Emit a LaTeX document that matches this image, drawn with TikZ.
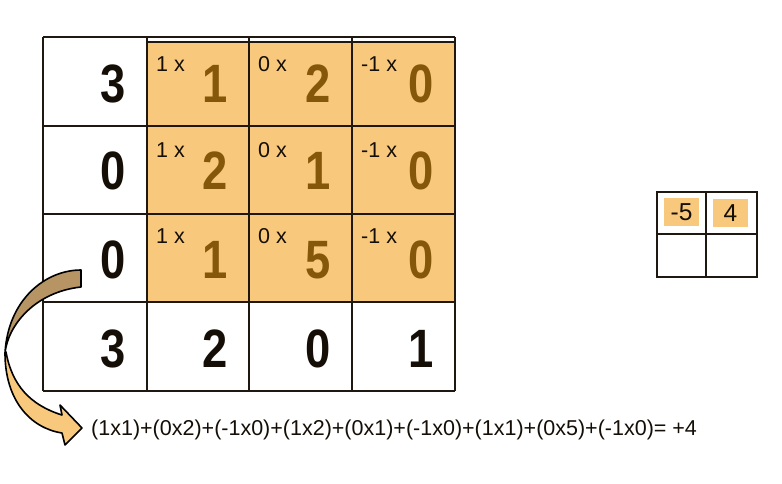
\documentclass[tikz,border=0pt]{standalone}
\usepackage{fontspec}
\setmainfont{Liberation Sans}
\usetikzlibrary{calc}
\definecolor{cellorange}{RGB}{248,201,124}
\definecolor{digitbrown}{RGB}{133,87,11}
\definecolor{gridline}{RGB}{30,24,16}
\definecolor{hatchfill}{RGB}{182,148,100}
\definecolor{inkblack}{RGB}{20,14,6}
\newcommand\narrowdig[1]{\scalebox{0.84}[1]{#1}}
\tikzset{
  gridstroke/.style={draw=gridline, line width=1.3pt},
  bigdigit/.style={anchor=base east, inner sep=0pt, text=inkblack,
    font=\fontsize{54}{54}\selectfont\bfseries},
  bigbrown/.style={bigdigit, text=digitbrown},
  weightlabel/.style={anchor=base west, inner sep=0pt, text=inkblack,
    font=\fontsize{21.5}{21.5}\selectfont},
  eqtext/.style={anchor=base west, inner sep=0pt, text=inkblack,
    font=\fontsize{21.5}{21.5}\selectfont},
  resultbox/.style={fill=cellorange, draw=none},
  resulttext/.style={inner sep=0pt, text=inkblack, font=\fontsize{24.5}{24.5}\selectfont},
  ribbon/.style={draw=black, line width=1.6pt, line join=round},
}
\begin{document}
\begin{tikzpicture}[x=1pt, y=-1pt]
\useasboundingbox (0,0) rectangle (782,483);

% orange kernel region
\fill[cellorange] (147,42) rectangle (455,302);

% grid lines
\draw[gridstroke] (43,37) -- (455,37);
\draw[gridstroke] (147,42) -- (455,42);
\draw[gridstroke] (43,126) -- (455,126);
\draw[gridstroke] (43,214) -- (455,214);
\draw[gridstroke] (43,302) -- (455,302);
\draw[draw=gridline, line width=2.4pt] (43,391) -- (455,391);
\draw[gridstroke] (43,37) -- (43,391);
\draw[gridstroke] (147,37) -- (147,391);
\draw[gridstroke] (249,37) -- (249,391);
\draw[gridstroke] (352,37) -- (352,391);
\draw[gridstroke] (455,37) -- (455,391);

% row 1
\node[bigdigit] (a11) at (126,102) {\narrowdig{3}};
\node[bigbrown] (a12) at (228,102) {\narrowdig{1}};
\node[bigbrown] (a13) at (331,102) {\narrowdig{2}};
\node[bigbrown] (a14) at (434,102) {\narrowdig{0}};
\node[weightlabel] (w11) at (156,71) {1 x};
\node[weightlabel] (w12) at (258,71) {0 x};
\node[weightlabel] (w13) at (361,71) {-1 x};
% row 2
\node[bigdigit] (a21) at (126,189) {\narrowdig{0}};
\node[bigbrown] (a22) at (228,189) {\narrowdig{2}};
\node[bigbrown] (a23) at (331,189) {\narrowdig{1}};
\node[bigbrown] (a24) at (434,189) {\narrowdig{0}};
\node[weightlabel] (w21) at (156,157) {1 x};
\node[weightlabel] (w22) at (258,157) {0 x};
\node[weightlabel] (w23) at (361,157) {-1 x};
% row 3
\node[bigdigit] (a31) at (126,278) {\narrowdig{0}};
\node[bigbrown] (a32) at (228,278) {\narrowdig{1}};
\node[bigbrown] (a33) at (331,278) {\narrowdig{5}};
\node[bigbrown] (a34) at (434,278) {\narrowdig{0}};
\node[weightlabel] (w31) at (156,243) {1 x};
\node[weightlabel] (w32) at (258,243) {0 x};
\node[weightlabel] (w33) at (361,243) {-1 x};
% row 4
\node[bigdigit] (a41) at (126,367) {\narrowdig{3}};
\node[bigdigit] (a42) at (228,367) {\narrowdig{2}};
\node[bigdigit] (a43) at (331,367) {\narrowdig{0}};
\node[bigdigit] (a44) at (434,367) {\narrowdig{1}};

% result matrix
\fill[resultbox] (664,198) rectangle (699,226);
\fill[resultbox] (713,199) rectangle (748,227);
\draw[gridstroke] (657,192) rectangle (757,277);
\draw[gridstroke] (706,192) -- (706,277);
\draw[gridstroke] (657,234) -- (757,234);
\node[resulttext] (r11) at (681.5,212.5) {-5};
\node[resulttext] (r12) at (730.5,213.5) {4};

% equation
\node[eqtext] (eq) at (91,435) {(1x1)+(0x2)+(-1x0)+(1x2)+(0x1)+(-1x0)+(1x1)+(0x5)+(-1x0)= +4};

% curved ribbon arrow
\filldraw[ribbon, fill=hatchfill]
  (81,270) .. controls (45,270) and (8,300) .. (5,353)
  .. controls (8,325) and (35,292) .. (81,287) -- cycle;
\filldraw[ribbon, fill=cellorange]
  (5,353) .. controls (5,400) and (30,428) .. (62,433)
  -- (65,445) -- (82,428) -- (60,405) -- (62,415)
  .. controls (30,405) and (12,385) .. (6,352) -- cycle;
\end{tikzpicture}
\end{document}
